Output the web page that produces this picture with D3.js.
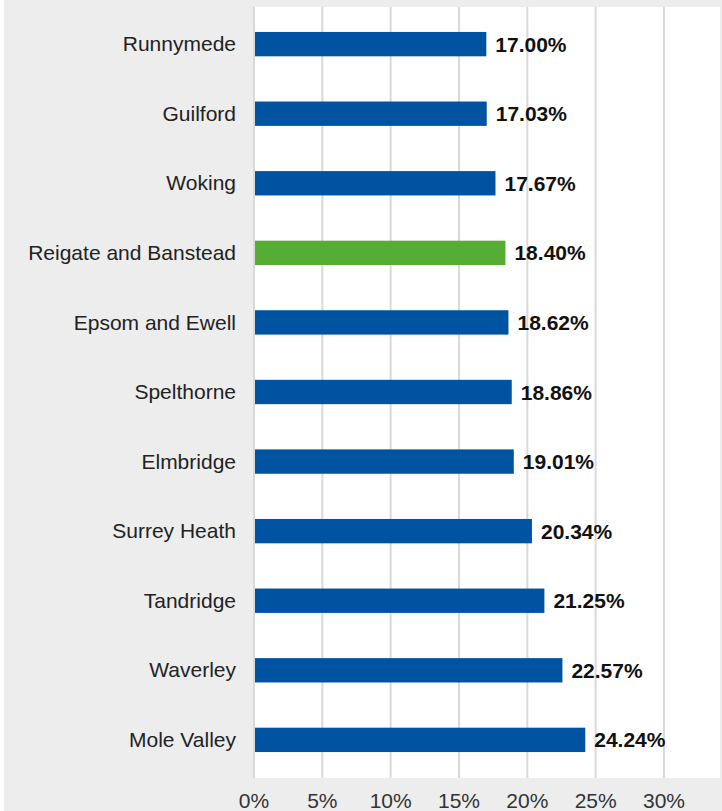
<!DOCTYPE html>
<html lang="en">
<head>
<meta charset="UTF-8">
<title>Surrey districts</title>
<script src="https://d3js.org/d3.v7.min.js"></script>
<style>
  body { margin: 0; background: #fff; }
  svg { display: block; font-family: "Liberation Sans", Arial, sans-serif; }
  .grid line { stroke: #d9d9d9; stroke-width: 2; }
  .cat { fill: #222; font-size: 21px; }
  .val { fill: #111; font-size: 21px; font-weight: bold; }
  .tick-label { fill: #333; font-size: 21px; }
</style>
</head>
<body>
<svg width="722" height="811"></svg>
<script>
const districts = ["Runnymede", "Guilford", "Woking", "Reigate and Banstead", "Epsom and Ewell",
  "Spelthorne", "Elmbridge", "Surrey Heath", "Tandridge", "Waverley", "Mole Valley"];
const shares = [17.00, 17.03, 17.67, 18.40, 18.62, 18.86, 19.01, 20.34, 21.25, 22.57, 24.24];
const highlight = "Reigate and Banstead";
const ticks = [0, 5, 10, 15, 20, 25, 30];

const svg = d3.select("svg");

// outer grey panel and white plot area
svg.append("rect").attr("x", 4).attr("y", 0).attr("width", 718).attr("height", 811).attr("fill", "#ededed");
svg.append("rect").attr("x", 254).attr("y", 7).attr("width", 466).attr("height", 771).attr("fill", "#fff");

const x = d3.scaleLinear().domain([0, 34.1]).range([254, 720]);
const y = d3.scaleBand().domain(districts).range([9, 775]).paddingInner(0.65).paddingOuter(0.33);

svg.append("g").attr("class", "grid")
  .selectAll("line").data(ticks).join("line")
  .attr("x1", d => x(d)).attr("x2", d => x(d))
  .attr("y1", 7).attr("y2", 778);

svg.append("g").selectAll("text").data(ticks).join("text")
  .attr("class", "tick-label")
  .attr("x", d => x(d))
  .attr("y", 808)
  .attr("text-anchor", "middle")
  .text(d => d + "%");

const rows = districts.map((d, i) => ({name: d, v: shares[i]}));

svg.append("g").selectAll("rect").data(rows).join("rect")
  .attr("x", x(0) + 1)
  .attr("y", d => y(d.name))
  .attr("width", d => x(d.v) - x(0) - 1)
  .attr("height", y.bandwidth())
  .attr("fill", d => d.name === highlight ? "#55ae33" : "#0053a0");

svg.append("g").selectAll("text").data(rows).join("text")
  .attr("class", "val")
  .attr("x", d => x(d.v) + 9)
  .attr("y", d => y(d.name) + y.bandwidth() / 2)
  .attr("dy", "0.36em")
  .text(d => d.v.toFixed(2) + "%");

svg.append("g").selectAll("text").data(rows).join("text")
  .attr("class", "cat")
  .attr("x", 236)
  .attr("y", d => y(d.name) + y.bandwidth() / 2)
  .attr("dy", "0.34em")
  .attr("text-anchor", "end")
  .text(d => d.name);
</script>
</body>
</html>
